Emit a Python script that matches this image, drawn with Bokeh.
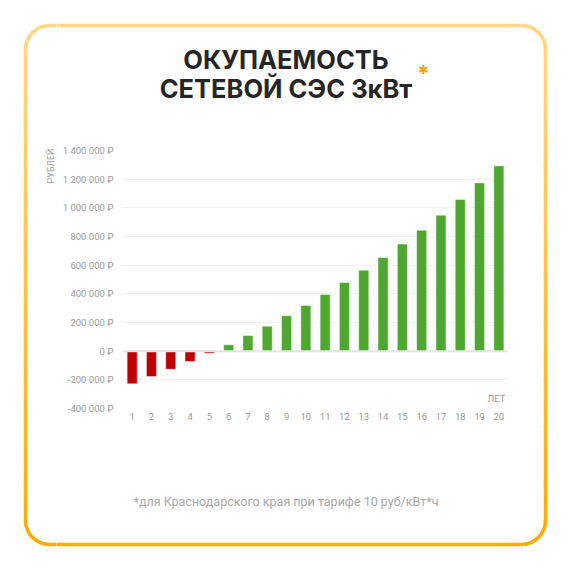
import math

from bokeh.plotting import figure
from bokeh.layouts import column, row
from bokeh.models import Label, FixedTicker, Span, FactorRange, Range1d
from bokeh.embed import file_html
from bokeh.resources import INLINE

# data
years = ["1", "2", "3", "4", "5", "6", "7", "8", "9", "10",
         "11", "12", "13", "14", "15", "16", "17", "18", "19", "20"]
balance = [-228000, -177000, -126000, -72000, -14000, 44000, 109000, 174000, 247000, 319000,
           395000, 479000, 565000, 653000, 747000, 844000, 949000, 1058000, 1174000, 1293000]
y_ticks = [-400000, -200000, 0, 200000, 400000, 600000, 800000, 1000000, 1200000, 1400000]
y_tick_labels = ["-400 000 ₽", "-200 000 ₽", "0 ₽", "200 000 ₽", "400 000 ₽", "600 000 ₽",
                 "800 000 ₽", "1 000 000 ₽", "1 200 000 ₽", "1 400 000 ₽"]
title_lines = ["ОКУПАЕМОСТЬ", "СЕТЕВОЙ СЭС 3кВт"]
y_label = "РУБЛЕЙ"
x_label = "ЛЕТ"
footnote = "*для Краснодарского края при тарифе 10 руб/кВт*ч"

RED = "#c00000"
GREEN = "#4ea72e"
GREY = "#9a9a9a"
FONT = "Roboto"
TITLE_FONT = "Inter"

colors = [RED if v < 0 else GREEN for v in balance]

# page pieces in pixel coordinates:
# tall left / right strips, and in between head, chart, foot
W, H = 554, 554
HEAD_H, MID_H = 140, 290
LEFT_W, RIGHT_W = 56, 34
FRAME_L, FRAME_R, FRAME_T, FRAME_B = 122, 508, 150, 408

# rounded frame around the card, yellow at top -> orange at bottom
L, R, T, B, r = 25, 545, 25, 544, 24
c_top = (255, 216, 135)
c_bot = (255, 171, 0)


def grad(y):
    t = (y - T) / (B - T)
    rgb = tuple(int(round(a + (b - a) * t)) for a, b in zip(c_top, c_bot))
    return "#%02x%02x%02x" % rgb


def arc(cx, cy, a0, a1, n=8):
    return [(cx + r * math.cos(math.radians(a0 + (a1 - a0) * i / n)),
             cy + r * math.sin(math.radians(a0 + (a1 - a0) * i / n))) for i in range(n + 1)]


def side(x0, y0, x1, y1, n):
    return [(x0 + (x1 - x0) * i / n, y0 + (y1 - y0) * i / n) for i in range(n + 1)]


pts = []
pts += side(L + r, T, R - r, T, 1)
pts += arc(R - r, T + r, -90, 0)
pts += side(R, T + r, R, B - r, 40)
pts += arc(R - r, B - r, 0, 90)
pts += side(R - r, B, L + r, B, 1)
pts += arc(L + r, B - r, 90, 180)
pts += side(L, B - r, L, T + r, 40)
pts += arc(L + r, T + r, 180, 270)

seg_xs, seg_ys, seg_colors = [], [], []
for (x0, y0), (x1, y1) in zip(pts[:-1], pts[1:]):
    seg_xs.append([x0, x1])
    seg_ys.append([y0, y1])
    seg_colors.append(grad((y0 + y1) / 2))


def panel(x0, x1, y0, y1):
    f = figure(width=x1 - x0, height=y1 - y0, x_range=Range1d(x0, x1), y_range=Range1d(y1, y0),
               x_axis_type=None, y_axis_type=None, min_border=0, title=None,
               toolbar_location=None, output_backend="svg")
    f.grid.visible = False
    f.outline_line_color = None
    f.border_fill_color = "white"
    f.background_fill_color = "white"
    f.multi_line(seg_xs, seg_ys, line_color=seg_colors, line_width=3.5, line_cap="round")
    return f


left = panel(0, LEFT_W, 0, H)
right = panel(W - RIGHT_W, W, 0, H)
head = panel(LEFT_W, W - RIGHT_W, 0, HEAD_H)
foot = panel(LEFT_W, W - RIGHT_W, HEAD_H + MID_H, H)

for text, y in zip(title_lines, [59, 87.5]):
    head.add_layout(Label(x=285.5, y=y, text=text, text_align="center",
                          text_baseline="middle", text_font=TITLE_FONT,
                          text_font_style="bold", text_font_size="25.5px", text_color="#262626"))
head.add_layout(Label(x=423, y=72.5, text="*", text_align="center", text_baseline="middle",
                      text_font=TITLE_FONT, text_font_style="bold", text_font_size="22px",
                      text_color="#f5a300"))

left.add_layout(Label(x=50, y=148, text=y_label, angle=math.pi / 2, text_align="right",
                      text_baseline="middle", text_font=FONT, text_font_size="9px",
                      text_color=GREY))

foot.add_layout(Label(x=285.5, y=501, text=footnote, text_align="center", text_baseline="middle",
                      text_font=FONT, text_font_size="12.5px", text_color="#a8a8a8"))

# the chart itself: frame from x=122 to 508, y=150 to 408 on the page
p = figure(x_range=FactorRange(*years), y_range=Range1d(-400000, 1400000),
           width=W - LEFT_W - RIGHT_W, height=MID_H, title=None,
           min_border_left=FRAME_L - LEFT_W, min_border_right=W - RIGHT_W - FRAME_R,
           min_border_top=FRAME_T - HEAD_H, min_border_bottom=HEAD_H + MID_H - FRAME_B,
           toolbar_location=None, output_backend="svg")
p.outline_line_color = None
p.border_fill_color = "white"

p.vbar(x=years, top=balance, bottom=0, width=0.52, fill_color=colors,
       line_color="white", line_alpha=0.45, line_width=1)

p.add_layout(Span(location=0, dimension="width", line_color="#e4e4e4", line_width=2))

p.xgrid.grid_line_color = None
p.ygrid.grid_line_color = "#f1f1f1"
p.ygrid.ticker = FixedTicker(ticks=y_ticks)

p.yaxis.ticker = FixedTicker(ticks=y_ticks)
p.yaxis.major_label_overrides = dict(zip(y_ticks, y_tick_labels))
for ax in (p.xaxis, p.yaxis):
    ax.axis_line_color = None
    ax.major_tick_line_color = None
    ax.minor_tick_line_color = None
    ax.major_tick_out = 0
    ax.major_tick_in = 0
    ax.minor_tick_out = 0
    ax.major_label_text_color = GREY
    ax.major_label_text_font = FONT
    ax.major_label_text_font_size = "9.5px"
p.yaxis.major_label_standoff = 9
p.xaxis.major_label_standoff = 4

p.add_layout(Label(x=383, y=10, x_units="screen", y_units="screen", text=x_label,
                   text_align="right", text_baseline="middle",
                   text_font=FONT, text_font_size="9.5px", text_color=GREY))

# chart wrapped in its own row so its frame is not lined up with head / foot
centre = column(head, row(p), foot)
page = row(left, centre, right)

open("out.html", "w").write(file_html(page, INLINE))
